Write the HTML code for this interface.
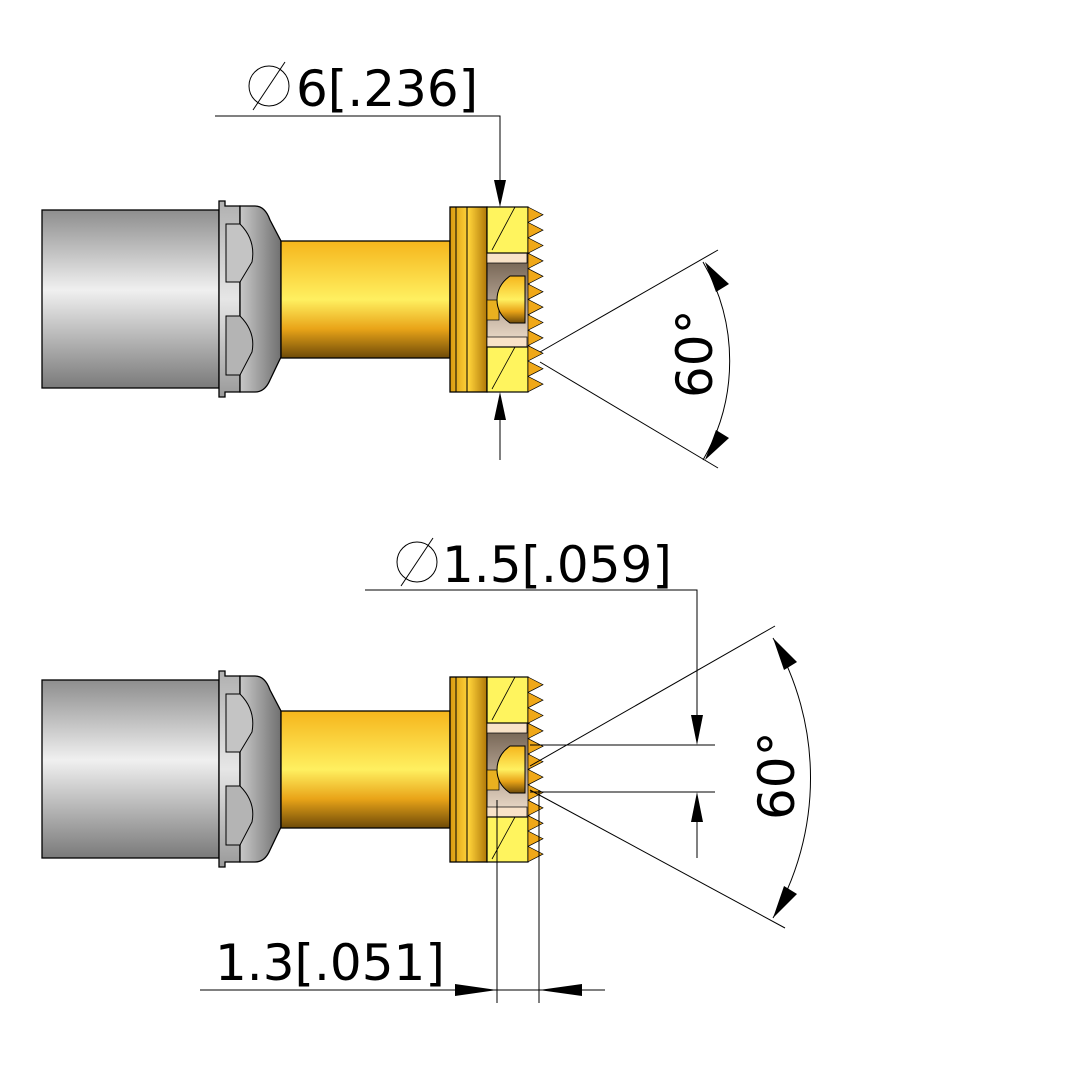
<!DOCTYPE html>
<html><head><meta charset="utf-8"><style>html,body{margin:0;padding:0;background:#fff}svg{display:block}</style></head>
<body>
<svg width="1082" height="1083" viewBox="0 0 1082 1083" xmlns="http://www.w3.org/2000/svg" font-family="'DejaVu Sans','Liberation Sans',sans-serif">
<defs>
<linearGradient id="grey" x1="0" y1="0" x2="0" y2="1">
<stop offset="0" stop-color="#8e8e8e"/><stop offset="0.45" stop-color="#f0f0f0"/><stop offset="1" stop-color="#7a7a7a"/></linearGradient>
<linearGradient id="grey2" x1="0" y1="0" x2="0" y2="1">
<stop offset="0" stop-color="#b0b0b0"/><stop offset="0.5" stop-color="#e6e6e6"/><stop offset="1" stop-color="#9a9a9a"/></linearGradient>
<linearGradient id="greyN" x1="0" y1="0" x2="1" y2="0">
<stop offset="0" stop-color="#c8c8c8"/><stop offset="1" stop-color="#707070"/></linearGradient>
<linearGradient id="gold" x1="0" y1="0" x2="0" y2="1">
<stop offset="0" stop-color="#f5b51c"/><stop offset="0.5" stop-color="#fff060"/><stop offset="0.75" stop-color="#e9a418"/><stop offset="1" stop-color="#6e4a08"/></linearGradient>
<linearGradient id="goldH" x1="0" y1="0" x2="1" y2="0">
<stop offset="0" stop-color="#d99a10"/><stop offset="0.5" stop-color="#ffd33a"/><stop offset="1" stop-color="#b07808"/></linearGradient>
<linearGradient id="inner" x1="0" y1="0" x2="0" y2="1">
<stop offset="0" stop-color="#6b5a4a"/><stop offset="1" stop-color="#f3e2d0"/></linearGradient>
<g id="conn">
<rect x="42" y="210" width="177" height="178" fill="url(#grey)" stroke="#000" stroke-width="1.3"/>
<path d="M219 201 H225 V206 H240 V392 H225 V397 H219 Z" fill="url(#grey2)" stroke="#000" stroke-width="1.3"/>
<path d="M240 206 H255 Q265 206 270 220 L281 241 V357 L270 380 Q265 392 255 392 H240 Z" fill="url(#greyN)" stroke="#000" stroke-width="1.3"/>
<path d="M226 224 H240 Q256 240 252 262 L240 282 H226 Z" fill="#c4c4c4" stroke="#000" stroke-width="1"/>
<path d="M226 316 H240 Q256 332 252 352 L240 375 H226 Z" fill="#b4b4b4" stroke="#000" stroke-width="1"/>
<rect x="281" y="241" width="169" height="117" fill="url(#gold)" stroke="#000" stroke-width="1.3"/>
<rect x="450" y="207" width="37" height="185" fill="url(#goldH)" stroke="#000" stroke-width="1.3"/>
<line x1="456" y1="207" x2="456" y2="392" stroke="#000"/>
<line x1="467" y1="207" x2="467" y2="392" stroke="#000"/>
<rect x="487" y="253" width="42" height="94" fill="url(#inner)" stroke="#000"/>
<rect x="487" y="253" width="40" height="10" fill="#f8e2c8" stroke="#000" stroke-width="0.7"/>
<rect x="487" y="337" width="40" height="10" fill="#f8e2c8" stroke="#000" stroke-width="0.7"/>
<rect x="487" y="300" width="12" height="20" fill="#e9b020" stroke="#000" stroke-width="0.7"/>
<path d="M510 276 H525 V323 H510 Q497 314 497 300 Q497 285 510 276 Z" fill="url(#gold)" stroke="#000" stroke-width="1"/>
<rect x="487" y="207" width="41" height="46" fill="#fff45e" stroke="#000" stroke-width="1.2"/>
<rect x="487" y="347" width="41" height="45" fill="#fff45e" stroke="#000" stroke-width="1.2"/>
<line x1="492" y1="250" x2="515" y2="207" stroke="#000" stroke-width="0.8"/>
<line x1="492" y1="389" x2="515" y2="347" stroke="#000" stroke-width="0.8"/>
<path d="M528 207 L543 214.7 L528 222.4 L543 230.1 L528 237.8 L543 245.5 L528 253.2 L543 260.9 L528 268.6 L543 276.3 L528 284 L543 291.7 L528 299.4 L543 307.1 L528 314.8 L543 322.5 L528 330.2 L543 337.9 L528 345.6 L543 353.3 L528 361 L543 368.7 L528 376.4 L543 384.1 L528 391.8 Z" fill="#f0a818" stroke="#000" stroke-width="0.7"/>
</g>
</defs>
<use href="#conn"/>
<use href="#conn" transform="translate(0,470)"/>

<g stroke="#000" stroke-width="1" fill="none">
<polyline points="215,116 500,116 500,180"/>
<line x1="500" y1="420" x2="500" y2="460"/>
<line x1="540" y1="352" x2="718" y2="250"/>
<line x1="540" y1="362" x2="718" y2="468"/>
<path d="M703 262 A197 197 0 0 1 703 460"/>
<polyline points="365,590 697,590 697,715"/>
<line x1="697" y1="820" x2="697" y2="858"/>
<line x1="530" y1="745" x2="715" y2="745"/>
<line x1="530" y1="792" x2="715" y2="792"/>
<line x1="530" y1="766" x2="775" y2="626"/>
<line x1="530" y1="790" x2="785" y2="928"/>
<path d="M773 638 A280 280 0 0 1 773 918"/>
<line x1="200" y1="990" x2="605" y2="990"/>
<line x1="497" y1="800" x2="497" y2="1003"/>
<line x1="539" y1="790" x2="539" y2="1003"/>
<circle cx="269" cy="86" r="20"/><line x1="253" y1="110" x2="285" y2="62"/>
<circle cx="417" cy="562" r="20"/><line x1="401" y1="586" x2="433" y2="538"/>
</g>
<g fill="#000">
<polygon points="500,207 494,180 506,180"/>
<polygon points="500,392 494,420 506,420"/>
<polygon points="705,262 716,292 729,284"/>
<polygon points="705,460 716,430 729,438"/>
<polygon points="697,745 691,715 703,715"/>
<polygon points="697,792 691,822 703,822"/>
<polygon points="773,638 784,670 797,662"/>
<polygon points="773,918 784,886 797,894"/>
<polygon points="497,990 455,984 455,996"/>
<polygon points="539,990 582,984 582,996"/>
</g>
<g font-size="50" fill="#000">
<text x="296" y="106">6[.236]</text>
<text x="442" y="582">1.5[.059]</text>
<text x="215" y="980">1.3[.051]</text>
<text transform="translate(712,398) rotate(-90)">60°</text>
<text transform="translate(794,820) rotate(-90)">60°</text>
</g>
</svg>
</body></html>
